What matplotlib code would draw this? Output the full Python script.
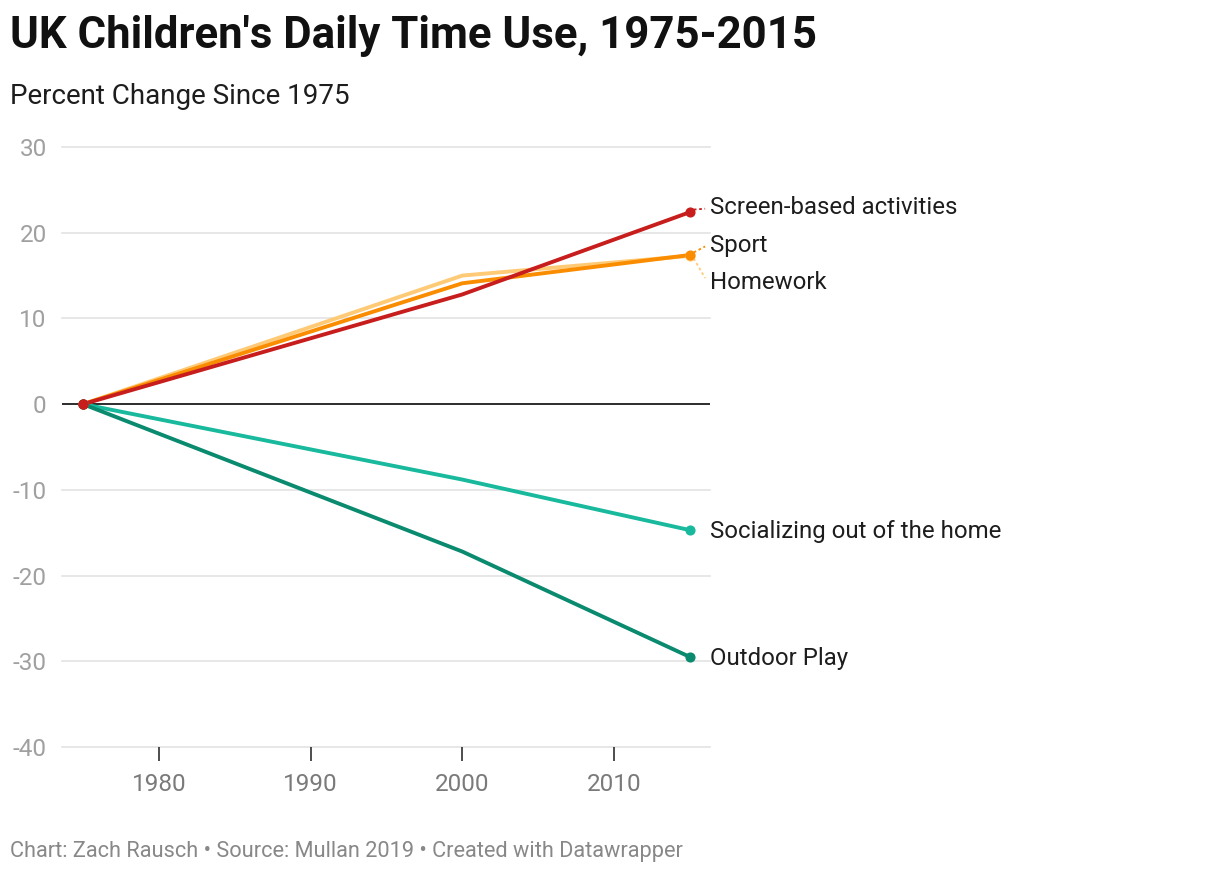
import matplotlib.pyplot as plt

plt.rcParams['font.family'] = ['Roboto', 'DejaVu Sans']

# ============== data ==============
years = [1975, 2000, 2015]
homework = [0, 15.0, 17.3]
sport = [0, 14.1, 17.4]
screen = [0, 12.8, 22.4]
socializing = [0, -8.8, -14.7]
outdoor = [0, -17.2, -29.5]

y_ticks = [30, 20, 10, 0, -10, -20, -30, -40]
x_ticks = [1980, 1990, 2000, 2010]

# series: (values, name, colour, label y position)
series = [
    (homework, "Homework", "#ffca76", 14.4),
    (sport, "Sport", "#fa8c00", 18.7),
    (socializing, "Socializing out of the home", "#18b99d", -14.7),
    (outdoor, "Outdoor Play", "#0a8a6e", -29.5),
    (screen, "Screen-based activities", "#c71e1d", 23.1),
]

fig = plt.figure(figsize=(12.2, 8.74), dpi=100)
ax = fig.add_axes([62 / 1220, 1 - 747 / 874, (710 - 62) / 1220, 600 / 874])

ax.set_xlim(1973.62, 2016.32)
ax.set_ylim(-40, 30)

# grid
for y in y_ticks:
    if y == 0:
        ax.axhline(y, color="#1d1d1d", lw=1.3, zorder=2)
    else:
        ax.axhline(y, color="#e3e3e3", lw=1.2, zorder=1, clip_on=False)

for vals, name, col, ly in series:
    ax.plot(years, vals, color=col, lw=2.8, solid_capstyle="round", zorder=3)
    ax.plot([years[0], years[-1]], [vals[0], vals[-1]], "o", color=col,
            ms=6.3, zorder=4, clip_on=False)
    # dotted connector to label (only when the label was moved)
    if abs(ly - vals[-1]) > 0.3:
        d = 1 if ly > vals[-1] else -1
        ax.plot([years[-1] + 0.25, 2016.0], [vals[-1] + 0.3 * d, ly - 0.3 * d],
                color=col, lw=1.3, ls=(0, (1.5, 1.5)), zorder=3, clip_on=False)
    ax.text(2016.32, ly - 0.2, name, ha="left", va="center", fontsize=17.3,
            color="#1d1d1d", clip_on=False)

# red start dot on top
ax.plot([years[0]], [screen[0]], "o", color="#c71e1d", ms=6.3, zorder=5)

for s in ax.spines.values():
    s.set_visible(False)

ax.set_yticks(y_ticks)
ax.set_yticklabels([str(y) for y in y_ticks])
ax.set_xticks(x_ticks)
ax.tick_params(axis="y", length=0, pad=11, labelsize=17.5, labelcolor="#a0a0a0")
ax.tick_params(axis="x", length=10, width=1.1, color="#1d1d1d", pad=9,
               labelsize=17.5, labelcolor="#7a7a7a")

fig.text(10 / 1220, 1 - 36 / 874, "UK Children's Daily Time Use, 1975-2015",
         fontsize=31.5, fontweight="bold", color="#111111", va="center")
fig.text(10 / 1220, 1 - 97 / 874, "Percent Change Since 1975",
         fontsize=20, color="#1d1d1d", va="center")
fig.text(10 / 1220, 1 - 851 / 874,
         "Chart: Zach Rausch \u2022 Source: Mullan 2019 \u2022 Created with Datawrapper",
         fontsize=15.7, color="#888888", va="center")

plt.savefig("out.png", dpi=100)
